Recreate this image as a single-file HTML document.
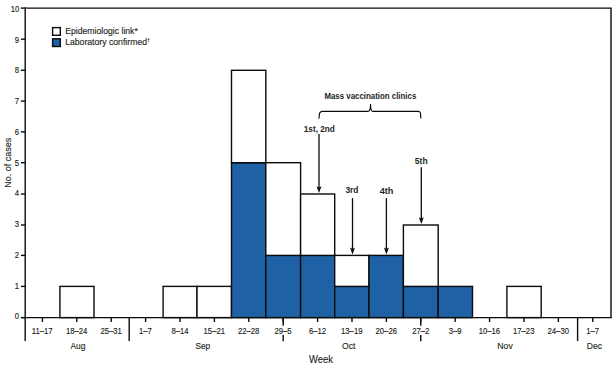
<!DOCTYPE html>
<html><head><meta charset="utf-8"><style>
html,body{margin:0;padding:0;background:#fff;overflow:hidden;}
svg{display:block;}
text{font-family:"Liberation Sans", sans-serif;fill:#231f20;stroke:#231f20;stroke-width:0.14px;}
</style></head><body>
<svg width="616" height="368" viewBox="0 0 616 368">
<rect x="59.93" y="286.40" width="34.07" height="31.20" fill="#fff" stroke="#0c0a0a" stroke-width="1.4"/>
<rect x="163.10" y="286.40" width="33.90" height="31.20" fill="#fff" stroke="#0c0a0a" stroke-width="1.4"/>
<rect x="197.00" y="286.40" width="34.50" height="31.20" fill="#fff" stroke="#0c0a0a" stroke-width="1.4"/>
<rect x="231.50" y="162.70" width="34.30" height="154.90" fill="#1e62a5" stroke="#0c0a0a" stroke-width="1.4"/>
<rect x="231.50" y="70.30" width="34.30" height="92.40" fill="#fff" stroke="#0c0a0a" stroke-width="1.4"/>
<rect x="265.80" y="255.40" width="34.80" height="62.20" fill="#1e62a5" stroke="#0c0a0a" stroke-width="1.4"/>
<rect x="265.80" y="162.70" width="34.80" height="92.70" fill="#fff" stroke="#0c0a0a" stroke-width="1.4"/>
<rect x="300.60" y="255.40" width="34.10" height="62.20" fill="#1e62a5" stroke="#0c0a0a" stroke-width="1.4"/>
<rect x="300.60" y="194.00" width="34.10" height="61.40" fill="#fff" stroke="#0c0a0a" stroke-width="1.4"/>
<rect x="334.70" y="286.40" width="34.30" height="31.20" fill="#1e62a5" stroke="#0c0a0a" stroke-width="1.4"/>
<rect x="334.70" y="255.40" width="34.30" height="31.00" fill="#fff" stroke="#0c0a0a" stroke-width="1.4"/>
<rect x="369.00" y="255.40" width="34.40" height="62.20" fill="#1e62a5" stroke="#0c0a0a" stroke-width="1.4"/>
<rect x="403.40" y="286.40" width="34.80" height="31.20" fill="#1e62a5" stroke="#0c0a0a" stroke-width="1.4"/>
<rect x="403.40" y="225.00" width="34.80" height="61.40" fill="#fff" stroke="#0c0a0a" stroke-width="1.4"/>
<rect x="438.20" y="286.40" width="34.30" height="31.20" fill="#1e62a5" stroke="#0c0a0a" stroke-width="1.4"/>
<rect x="506.90" y="286.40" width="34.30" height="31.20" fill="#fff" stroke="#0c0a0a" stroke-width="1.4"/>
<path d="M25.20 8.10 H611.00 V317.60" fill="none" stroke="#0c0a0a" stroke-width="1.4"/>
<path d="M25.20 7.35 V341" fill="none" stroke="#0c0a0a" stroke-width="1.4"/>
<path d="M21.20 317.60 H611.75" fill="none" stroke="#0c0a0a" stroke-width="1.4"/>
<path d="M20.9 317.60 H25.2" stroke="#0c0a0a" stroke-width="1.4"/>
<path d="M20.9 286.40 H25.2" stroke="#0c0a0a" stroke-width="1.4"/>
<path d="M20.9 255.40 H25.2" stroke="#0c0a0a" stroke-width="1.4"/>
<path d="M20.9 225.00 H25.2" stroke="#0c0a0a" stroke-width="1.4"/>
<path d="M20.9 194.00 H25.2" stroke="#0c0a0a" stroke-width="1.4"/>
<path d="M20.9 162.70 H25.2" stroke="#0c0a0a" stroke-width="1.4"/>
<path d="M20.9 131.90 H25.2" stroke="#0c0a0a" stroke-width="1.4"/>
<path d="M20.9 101.10 H25.2" stroke="#0c0a0a" stroke-width="1.4"/>
<path d="M20.9 70.30 H25.2" stroke="#0c0a0a" stroke-width="1.4"/>
<path d="M20.9 39.20 H25.2" stroke="#0c0a0a" stroke-width="1.4"/>
<path d="M20.9 8.10 H25.2" stroke="#0c0a0a" stroke-width="1.4"/>
<text transform="translate(14.86 319.47) scale(0.9400 1)" font-size="8.2">0</text>
<text transform="translate(14.86 288.70) scale(0.9400 1)" font-size="8.2">1</text>
<text transform="translate(14.86 257.94) scale(0.9400 1)" font-size="8.2">2</text>
<text transform="translate(14.86 227.16) scale(0.9400 1)" font-size="8.2">3</text>
<text transform="translate(14.86 196.40) scale(0.9400 1)" font-size="8.2">4</text>
<text transform="translate(14.86 165.62) scale(0.9400 1)" font-size="8.2">5</text>
<text transform="translate(14.86 134.85) scale(0.9400 1)" font-size="8.2">6</text>
<text transform="translate(14.86 104.09) scale(0.9400 1)" font-size="8.2">7</text>
<text transform="translate(14.86 73.31) scale(0.9400 1)" font-size="8.2">8</text>
<text transform="translate(14.86 42.55) scale(0.9400 1)" font-size="8.2">9</text>
<text transform="translate(10.63 11.78) scale(0.9400 1)" font-size="8.2">10</text>
<path d="M42.42 317.60 V322" stroke="#0c0a0a" stroke-width="1.4"/>
<path d="M76.81 317.60 V322" stroke="#0c0a0a" stroke-width="1.4"/>
<path d="M111.21 317.60 V322" stroke="#0c0a0a" stroke-width="1.4"/>
<path d="M145.61 317.60 V322" stroke="#0c0a0a" stroke-width="1.4"/>
<path d="M180.00 317.60 V322" stroke="#0c0a0a" stroke-width="1.4"/>
<path d="M214.40 317.60 V322" stroke="#0c0a0a" stroke-width="1.4"/>
<path d="M248.79 317.60 V322" stroke="#0c0a0a" stroke-width="1.4"/>
<path d="M283.19 317.60 V322" stroke="#0c0a0a" stroke-width="1.4"/>
<path d="M317.59 317.60 V322" stroke="#0c0a0a" stroke-width="1.4"/>
<path d="M351.98 317.60 V322" stroke="#0c0a0a" stroke-width="1.4"/>
<path d="M386.38 317.60 V322" stroke="#0c0a0a" stroke-width="1.4"/>
<path d="M420.77 317.60 V322" stroke="#0c0a0a" stroke-width="1.4"/>
<path d="M455.17 317.60 V322" stroke="#0c0a0a" stroke-width="1.4"/>
<path d="M489.57 317.60 V322" stroke="#0c0a0a" stroke-width="1.4"/>
<path d="M523.96 317.60 V322" stroke="#0c0a0a" stroke-width="1.4"/>
<path d="M558.36 317.60 V322" stroke="#0c0a0a" stroke-width="1.4"/>
<path d="M592.75 317.60 V322" stroke="#0c0a0a" stroke-width="1.4"/>
<path d="M129.20 317.60 V341" stroke="#0c0a0a" stroke-width="1.4"/>
<path d="M577.60 317.60 V341" stroke="#0c0a0a" stroke-width="1.4"/>
<path d="M283.19 317.60 V325.7 M283.19 335 V341.2" stroke="#0c0a0a" stroke-width="1.4"/>
<path d="M420.77 317.60 V325.7 M420.77 335 V341.2" stroke="#0c0a0a" stroke-width="1.4"/>
<text transform="translate(31.84 333.80) scale(0.9400 1)" font-size="8.2">11–17</text>
<text transform="translate(65.89 333.80) scale(0.9400 1)" font-size="8.2">18–24</text>
<text transform="translate(100.52 333.80) scale(0.9400 1)" font-size="8.2">25–31</text>
<text transform="translate(139.03 333.80) scale(0.9400 1)" font-size="8.2">1–7</text>
<text transform="translate(171.42 333.80) scale(0.9400 1)" font-size="8.2">8–14</text>
<text transform="translate(203.59 333.80) scale(0.9400 1)" font-size="8.2">15–21</text>
<text transform="translate(237.98 333.80) scale(0.9400 1)" font-size="8.2">22–28</text>
<text transform="translate(274.50 333.80) scale(0.9400 1)" font-size="8.2">29–5</text>
<text transform="translate(309.01 333.80) scale(0.9400 1)" font-size="8.2">6–12</text>
<text transform="translate(341.05 333.80) scale(0.9400 1)" font-size="8.2">13–19</text>
<text transform="translate(375.57 333.80) scale(0.9400 1)" font-size="8.2">20–26</text>
<text transform="translate(412.20 333.80) scale(0.9400 1)" font-size="8.2">27–2</text>
<text transform="translate(448.82 333.80) scale(0.9400 1)" font-size="8.2">3–9</text>
<text transform="translate(478.64 333.80) scale(0.9400 1)" font-size="8.2">10–16</text>
<text transform="translate(513.03 333.80) scale(0.9400 1)" font-size="8.2">17–23</text>
<text transform="translate(547.55 333.80) scale(0.9400 1)" font-size="8.2">24–30</text>
<text transform="translate(586.17 333.80) scale(0.9400 1)" font-size="8.2">1–7</text>
<text transform="translate(70.45 348.60) scale(0.8597 1)" font-size="9.7">Aug</text>
<text transform="translate(195.40 348.60) scale(0.8576 1)" font-size="9.7">Sep</text>
<text transform="translate(342.03 348.60) scale(0.8862 1)" font-size="9.7">Oct</text>
<text transform="translate(497.33 348.60) scale(0.8923 1)" font-size="9.7">Nov</text>
<text transform="translate(586.79 348.60) scale(0.8800 1)" font-size="9.7">Dec</text>
<text transform="translate(309.03 362.75) scale(0.8822 1)" font-size="10.7">Week</text>
<text transform="translate(10.95 187.83) rotate(-90) scale(0.9098 1)" font-size="9.9">No. of cases</text>
<rect x="52.6" y="27.6" width="7.7" height="7.7" fill="#fff" stroke="#0c0a0a" stroke-width="1.4"/>
<rect x="52.6" y="38.8" width="7.7" height="7.7" fill="#1e62a5" stroke="#0c0a0a" stroke-width="1.4"/>
<text transform="translate(65.13 33.70) scale(0.9632 1)" font-size="9.0">Epidemiologic link*</text>
<text transform="translate(65.13 44.50) scale(0.9642 1)" font-size="9.0">Laboratory confirmed<tspan font-size="4.8" dy="-2.4" dx="0.3">†</tspan></text>
<text transform="translate(324.40 98.60) scale(0.8958 1)" font-size="8.8" font-weight="bold" style="stroke-width:0">Mass vaccination clinics</text>
<path d="M318.9 118.6 C319.3 115 319.4 113 320.2 112.3 C320.8 111.6 321.5 111.4 322.5 111.4 H368 C369.6 111.4 370.5 110 370.5 103.9 C370.5 110 371.4 111.4 373 111.4 H418.2 C419.2 111.4 419.9 111.6 420.3 112.6 C420.7 113.6 420.7 115.5 420.8 118.6" fill="none" stroke="#0c0a0a" stroke-width="1.15"/>
<text transform="translate(303.77 131.60) scale(0.9677 1)" font-size="8.5" font-weight="bold" style="stroke-width:0">1st, 2nd</text>
<text transform="translate(345.40 193.10) scale(0.9920 1)" font-size="8.5" font-weight="bold" style="stroke-width:0">3rd</text>
<text transform="translate(379.68 194.00) scale(1.0750 1)" font-size="8.5" font-weight="bold" style="stroke-width:0">4th</text>
<text transform="translate(414.80 163.60) scale(1.0083 1)" font-size="8.5" font-weight="bold" style="stroke-width:0">5th</text>
<path d="M319.00 134.1 V189.00" stroke="#0c0a0a" stroke-width="1.3"/>
<path d="M316.50 186.20 L319.00 187.60 L321.50 186.20 L319.00 193.00 Z" fill="#0c0a0a"/>
<path d="M352.50 198.1 V250.40" stroke="#0c0a0a" stroke-width="1.3"/>
<path d="M350.00 247.60 L352.50 249.00 L355.00 247.60 L352.50 254.40 Z" fill="#0c0a0a"/>
<path d="M386.40 198.1 V250.40" stroke="#0c0a0a" stroke-width="1.3"/>
<path d="M383.90 247.60 L386.40 249.00 L388.90 247.60 L386.40 254.40 Z" fill="#0c0a0a"/>
<path d="M421.30 167.2 V220.00" stroke="#0c0a0a" stroke-width="1.3"/>
<path d="M418.80 217.20 L421.30 218.60 L423.80 217.20 L421.30 224.00 Z" fill="#0c0a0a"/>
</svg>
</body></html>
